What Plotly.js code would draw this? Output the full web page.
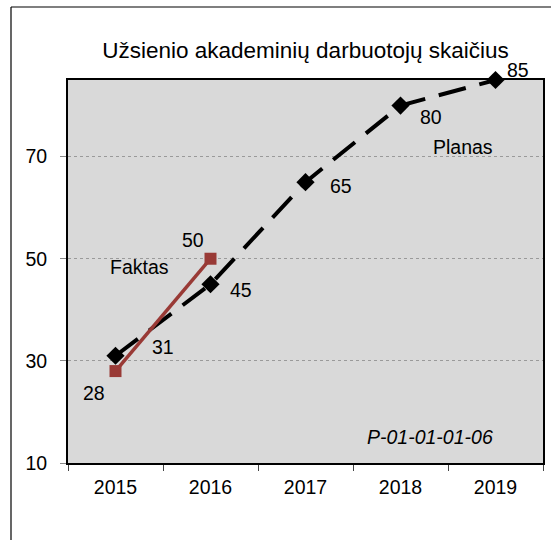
<!DOCTYPE html>
<html>
<head>
<meta charset="utf-8">
<script src="https://cdn.plot.ly/plotly-3.0.1.min.js"></script>
<style>html,body{margin:0;padding:0;background:#fff;}#chart{width:551px;height:540px;}</style>
</head>
<body>
<div id="chart"></div>
<script>
const years = ["2015", "2016", "2017", "2018", "2019"];
const planValues = [31, 45, 65, 80, 85];
const factYears = ["2015", "2016"];
const factValues = [28, 50];
const yTicks = [10, 30, 50, 70];

const planShift = [[47, 9], [30, -6], [35, -4], [30, -11], [22, 10]];
const factShift = [[-22, -22], [-18, 19]];

const labelFont = {family: "Liberation Sans, Arial, sans-serif", size: 19.5, color: "#000"};

const traces = [
  {
    x: years, y: planValues, type: "scatter", mode: "lines+markers", name: "Planas",
    line: {color: "#000", width: 4, dash: "28px,14px"},
    marker: {symbol: "diamond", size: 14, color: "#000"},
    cliponaxis: false
  },
  {
    x: factYears, y: factValues, type: "scatter", mode: "lines+markers", name: "Faktas",
    line: {color: "#993a36", width: 3.5},
    marker: {symbol: "square", size: 12, color: "#993a36"},
    cliponaxis: false
  }
];

const annotations = [];
years.forEach((yr, i) => annotations.push({
  x: years.indexOf(yr), y: planValues[i], xref: "x", yref: "y", text: String(planValues[i]),
  showarrow: false, xanchor: "center", yanchor: "middle",
  xshift: planShift[i][0], yshift: planShift[i][1], font: labelFont
}));
factYears.forEach((yr, i) => annotations.push({
  x: years.indexOf(yr), y: factValues[i], xref: "x", yref: "y", text: String(factValues[i]),
  showarrow: false, xanchor: "center", yanchor: "middle",
  xshift: factShift[i][0], yshift: factShift[i][1], font: labelFont
}));
annotations.push({x: 0.150, y: 0.512, xref: "paper", yref: "paper", xanchor: "center", yanchor: "middle", text: "Faktas", showarrow: false, font: labelFont});
annotations.push({x: 0.832, y: 0.825, xref: "paper", yref: "paper", xanchor: "center", yanchor: "middle", text: "Planas", showarrow: false, font: labelFont});
annotations.push({x: 0.762, y: 0.068, xref: "paper", yref: "paper", xanchor: "center", yanchor: "middle", text: "<i>P-01-01-01-06</i>", showarrow: false, font: labelFont});

const layout = {
  width: 551, height: 540,
  margin: {l: 68, r: 8, t: 80, b: 77},
  paper_bgcolor: "#fff",
  plot_bgcolor: "#d9d9d9",
  showlegend: false,
  title: {
    text: "Užsienio akademinių darbuotojų skaičius",
    font: {family: "Liberation Sans, Arial, sans-serif", size: 22.5, color: "#000"},
    x: 0.5, xanchor: "center", xref: "paper",
    y: 0.907, yanchor: "middle", yref: "container"
  },
  xaxis: {
    type: "category", range: [-0.5, 4.5],
    tickson: "boundaries", ticks: "outside", ticklen: 6, tickcolor: "#444", tickwidth: 1,
    ticklabelstandoff: 6,
    showline: true, linecolor: "#000", linewidth: 2, mirror: true,
    showgrid: false, zeroline: false,
    tickfont: labelFont
  },
  yaxis: {
    range: [10, 85], tickvals: yTicks, ticktext: yTicks.map(String),
    ticks: "outside", ticklen: 6, tickcolor: "#888", tickwidth: 1,
    ticklabelstandoff: 9,
    showline: true, linecolor: "#000", linewidth: 2, mirror: true,
    showgrid: true, gridcolor: "#9a9a9a", griddash: "dot", gridwidth: 1,
    zeroline: false, tickfont: labelFont
  },
  annotations: annotations,
  shapes: [
    {type: "line", xref: "paper", yref: "paper", x0: -0.12, x1: -0.12, y0: -0.3, y1: 1.1906, line: {color: "#000", width: 1.2}},
    {type: "line", xref: "paper", yref: "paper", x0: -0.12, x1: 1.1, y0: 1.1906, y1: 1.1906, line: {color: "#000", width: 1.2}}
  ]
};

Plotly.newPlot("chart", traces, layout, {displayModeBar: false, staticPlot: true});
</script>
</body>
</html>
